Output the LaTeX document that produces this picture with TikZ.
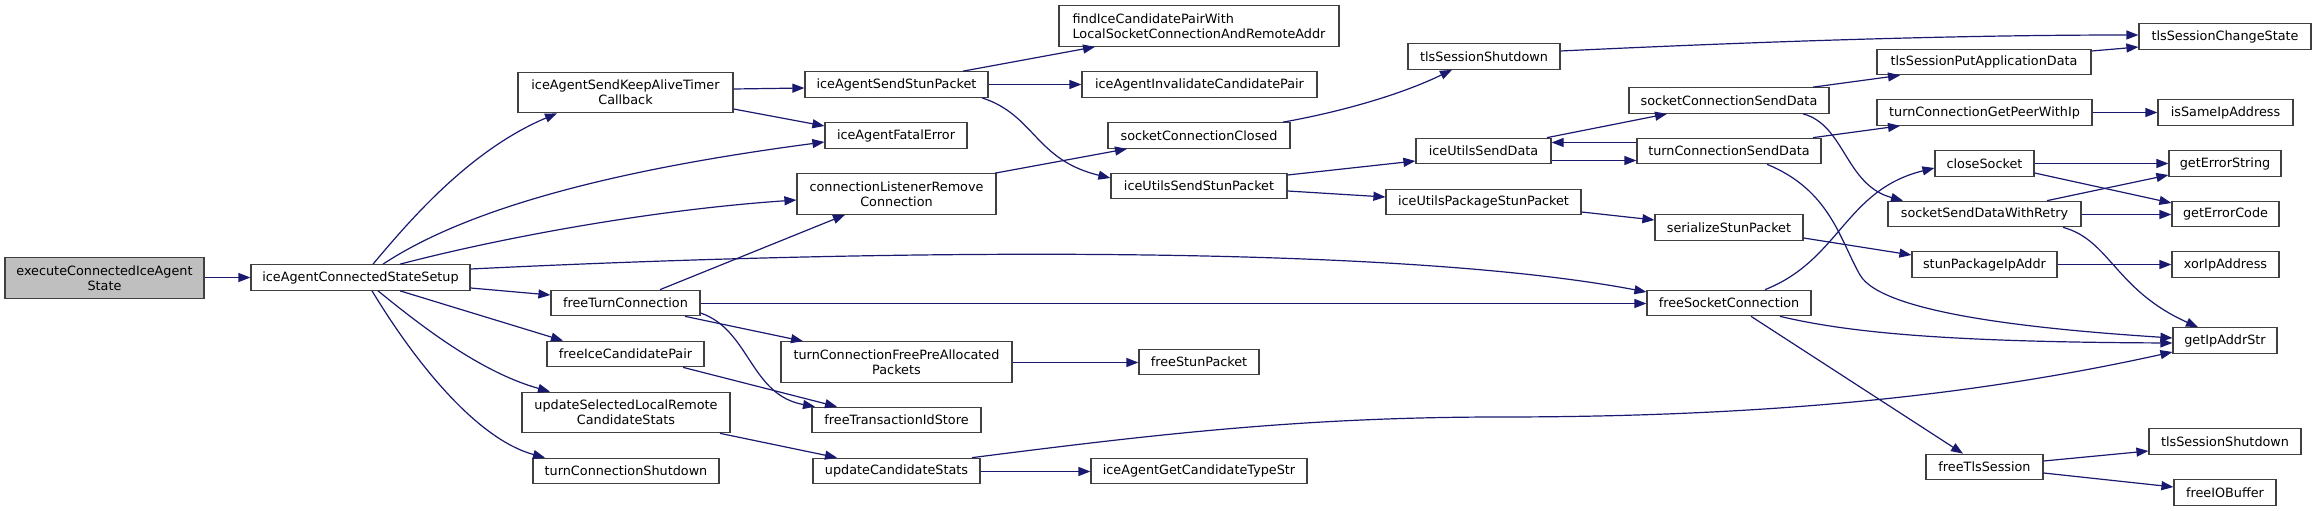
\documentclass[tikz,border=0pt]{standalone}
\usepackage{fontspec}
\newfontfamily\dejavu{DejaVu Sans}
\usetikzlibrary{arrows.meta}
\definecolor{edgeblue}{HTML}{191970}
\definecolor{nodeborder}{HTML}{404040}
\definecolor{curfill}{HTML}{BFBFBF}
\tikzset{
  fn/.style={draw=nodeborder, fill=white, line width=1.2bp, inner sep=0pt,
    minimum height=25.5bp, align=center,
    font=\dejavu\fontsize{12.8bp}{15bp}\selectfont},
  fn2/.style={fn, minimum height=40.5bp},
  e/.style={draw=edgeblue, line width=1.2bp, -{Triangle[length=12bp,width=9bp]}},
}
\begin{document}
\begin{tikzpicture}[x=1bp,y=-1bp]
\useasboundingbox[fill=white] (0,0) rectangle (2316,511);
% column 0/1
\node[fn2, fill=curfill, minimum width=199bp] (exec) at (104.5,278) {executeConnectedIceAgent\\State};
\node[fn, minimum width=219bp] (setup) at (360.5,277.5) {iceAgentConnectedStateSetup};
% column 2
\node[fn2, minimum width=215bp] (keepAlive) at (625.5,92.5) {iceAgentSendKeepAliveTimer\\Callback};
\node[fn, minimum width=149bp] (freeTurn) at (625.5,303) {freeTurnConnection};
\node[fn, minimum width=157bp] (freeIcePair) at (625.5,354) {freeIceCandidatePair};
\node[fn2, minimum width=208bp] (updSel) at (626,412.5) {updateSelectedLocalRemote\\CandidateStats};
\node[fn, minimum width=186bp] (turnShutdown) at (626,471) {turnConnectionShutdown};
% column 3
\node[fn, minimum width=183bp] (sendStun) at (896.5,84.5) {iceAgentSendStunPacket};
\node[fn, minimum width=142bp] (fatal) at (896,135.5) {iceAgentFatalError};
\node[fn2, minimum width=199bp] (clRemove) at (896.5,194) {connectionListenerRemove\\Connection};
\node[fn2, minimum width=231bp] (freePre) at (896.5,362) {turnConnectionFreePreAllocated\\Packets};
\node[fn, minimum width=169bp] (freeTxn) at (896.5,420) {freeTransactionIdStore};
\node[fn, minimum width=167bp] (updCand) at (896.5,471) {updateCandidateStats};
% column 4
\node[fn2, minimum width=280bp, align=left] (findPair) at (1199,26) {findIceCandidatePairWith\\LocalSocketConnectionAndRemoteAddr};
\node[fn, minimum width=235bp] (invalidate) at (1199.5,84.5) {iceAgentInvalidateCandidatePair};
\node[fn, minimum width=182bp] (sockClosed) at (1199,135.5) {socketConnectionClosed};
\node[fn, minimum width=176bp] (utilsSendStun) at (1199,186) {iceUtilsSendStunPacket};
\node[fn, minimum width=120bp] (freeStun) at (1199,362) {freeStunPacket};
\node[fn, minimum width=216bp] (getCandType) at (1199,471) {iceAgentGetCandidateTypeStr};
% column 5
\node[fn, minimum width=152bp] (tlsShut1) at (1484,56.5) {tlsSessionShutdown};
\node[fn, minimum width=135bp] (utilsSendData) at (1483.5,151) {iceUtilsSendData};
\node[fn, minimum width=195bp] (utilsPkg) at (1483.5,202) {iceUtilsPackageStunPacket};
% column 6
\node[fn, minimum width=200bp] (sockSendData) at (1729,100.5) {socketConnectionSendData};
\node[fn, minimum width=184bp] (turnSendData) at (1729,151) {turnConnectionSendData};
\node[fn, minimum width=148bp] (serialize) at (1729,227.5) {serializeStunPacket};
\node[fn, minimum width=164bp] (freeSock) at (1729,303) {freeSocketConnection};
% column 7
\node[fn, minimum width=214bp] (tlsPut) at (1984,62) {tlsSessionPutApplicationData};
\node[fn, minimum width=215bp] (getPeer) at (1984.5,112.5) {turnConnectionGetPeerWithIp};
\node[fn, minimum width=99bp] (closeSocket) at (1984.5,163.5) {closeSocket};
\node[fn, minimum width=193bp] (sendRetry) at (1984.5,214) {socketSendDataWithRetry};
\node[fn, minimum width=145bp] (stunPkgIp) at (1984.5,264.5) {stunPackageIpAddr};
\node[fn, minimum width=117bp] (freeTls) at (1984.5,467) {freeTlsSession};
% column 8
\node[fn, minimum width=172bp] (changeState) at (2225,36.5) {tlsSessionChangeState};
\node[fn, minimum width=135bp] (isSame) at (2225.5,112.5) {isSameIpAddress};
\node[fn, minimum width=112bp] (getErrStr) at (2225,163.5) {getErrorString};
\node[fn, minimum width=107bp] (getErrCode) at (2225.5,214) {getErrorCode};
\node[fn, minimum width=107bp] (xorIp) at (2225.5,264.5) {xorIpAddress};
\node[fn, minimum width=104bp] (getIpAddrStr) at (2225,340.5) {getIpAddrStr};
\node[fn, minimum width=152bp] (tlsShut2) at (2225,441.5) {tlsSessionShutdown};
\node[fn, minimum width=102bp] (freeIOBuffer) at (2225,492.5) {freeIOBuffer};

% edges
\draw[e] (exec.east |- 0,277.5) -- (setup.west |- 0,277.5);
\draw[e] (setup.north -| 373,0) .. controls (410,220) and (470,150) .. (keepAlive.south -| 557,0);
\draw[e] (setup.north -| 383,0) .. controls (480,200) and (650,165) .. (fatal.west |- 0,142);
\draw[e] (setup.north -| 400,0) .. controls (500,238) and (650,210) .. (clRemove.west |- 0,200);
\draw[e] (setup.east |- 0,269) .. controls (900,248) and (1400,245) .. (freeSock.west |- 0,292);
\draw[e] (setup.east |- 0,288) -- (freeTurn.west |- 0,295);
\draw[e] (setup.south -| 400,0) -- (freeIcePair.north -| 563,0);
\draw[e] (setup.south -| 378,0) .. controls (420,325) and (480,372) .. (updSel.north -| 550,0);
\draw[e] (setup.south -| 372,0) .. controls (420,370) and (480,440) .. (turnShutdown.north -| 545,0);

\draw[e] (keepAlive.east |- 0,89) -- (sendStun.west |- 0,88);
\draw[e] (keepAlive.east |- 0,109) -- (fatal.west |- 0,126);
\draw[e] (sendStun.north -| 963,0) -- (findPair.south -| 1095,0);
\draw[e] (sendStun.east |- 0,84.5) -- (invalidate.west |- 0,84.5);
\draw[e] (sendStun.south -| 982,0) .. controls (1035,115) and (1035,160) .. (utilsSendStun.west |- 0,178);
\draw[e] (clRemove.north -| 995,0) -- (sockClosed.south -| 1127,0);
\draw[e] (sockClosed.north -| 1283,0) .. controls (1340,112) and (1400,95) .. (tlsShut1.south -| 1452,0);
\draw[e] (utilsSendStun.east |- 0,175) -- (utilsSendData.west |- 0,161);
\draw[e] (utilsSendStun.east |- 0,191) -- (utilsPkg.west |- 0,197);
\draw[e] (utilsSendData.north -| 1547,0) -- (sockSendData.south -| 1667,0);
\draw[e] (utilsSendData.east |- 0,160.5) -- (turnSendData.west |- 0,160.5);
\draw[e] (turnSendData.west |- 0,142.5) -- (utilsSendData.east |- 0,142.5);
\draw[e] (utilsPkg.east |- 0,212) -- (serialize.west |- 0,220);
\draw[e] (turnSendData.north -| 1813,0) -- (getPeer.south -| 1900,0);
\draw[e] (sockSendData.north -| 1813,0) -- (tlsPut.south -| 1900,0);
\draw[e] (sockSendData.south -| 1803,0) .. controls (1845,125) and (1845,185) .. (sendRetry.north -| 1903,0);
\draw[e] (turnSendData.south -| 1767,0) .. controls (1830,190) and (1840,240) .. (1860,275) .. controls (1883,315) and (2050,330) .. (getIpAddrStr.west |- 0,338);
\draw[e] (tlsShut1.east |- 0,51) .. controls (1750,42) and (1950,35) .. (changeState.west |- 0,35);
\draw[e] (tlsPut.east |- 0,51) -- (changeState.west |- 0,47);
\draw[e] (getPeer.east |- 0,112.5) -- (isSame.west |- 0,112.5);
\draw[e] (closeSocket.east |- 0,163.5) -- (getErrStr.west |- 0,163.5);
\draw[e] (closeSocket.east |- 0,173) -- (getErrCode.west |- 0,203);
\draw[e] (sendRetry.north -| 2047,0) -- (getErrStr.west |- 0,175);
\draw[e] (sendRetry.east |- 0,214.5) -- (getErrCode.west |- 0,214.5);
\draw[e] (sendRetry.south -| 2063,0) .. controls (2110,240) and (2115,290) .. (getIpAddrStr.north -| 2198,0);
\draw[e] (stunPkgIp.east |- 0,264.5) -- (xorIp.west |- 0,264.5);
\draw[e] (serialize.east |- 0,238) -- (stunPkgIp.west |- 0,255);
\draw[e] (freeSock.north -| 1765,0) .. controls (1840,260) and (1845,190) .. (closeSocket.west |- 0,168);
\draw[e] (freeSock.south -| 1780,0) .. controls (1850,333) and (1950,342) .. (getIpAddrStr.west |- 0,343);
\draw[e] (freeSock.south -| 1751,0) -- (freeTls.north -| 1963,0);
\draw[e] (freeTls.east |- 0,461) -- (tlsShut2.west |- 0,451);
\draw[e] (freeTls.east |- 0,473) -- (freeIOBuffer.west |- 0,487);
\draw[e] (updCand.north -| 972,0) .. controls (1150,435) and (1300,417) .. (1500,417) .. controls (1800,417) and (2000,390) .. (getIpAddrStr.west |- 0,352);
\draw[e] (updCand.east |- 0,471.5) -- (getCandType.west |- 0,471.5);
\draw[e] (updSel.south -| 720,0) -- (updCand.north -| 837,0);
\draw[e] (freeIcePair.south -| 683,0) -- (freeTxn.north -| 837,0);
\draw[e] (freeTurn.north -| 660,0) -- (clRemove.south -| 845,0);
\draw[e] (freeTurn.east |- 0,303.5) -- (freeSock.west |- 0,303.5);
\draw[e] (freeTurn.south -| 685,0) -- (freePre.north -| 803,0);
\draw[e] (freeTurn.east |- 0,313) .. controls (750,330) and (750,395) .. (freeTxn.north -| 815,0);
\draw[e] (freePre.east |- 0,362.5) -- (freeStun.west |- 0,362.5);
\end{tikzpicture}
\end{document}
